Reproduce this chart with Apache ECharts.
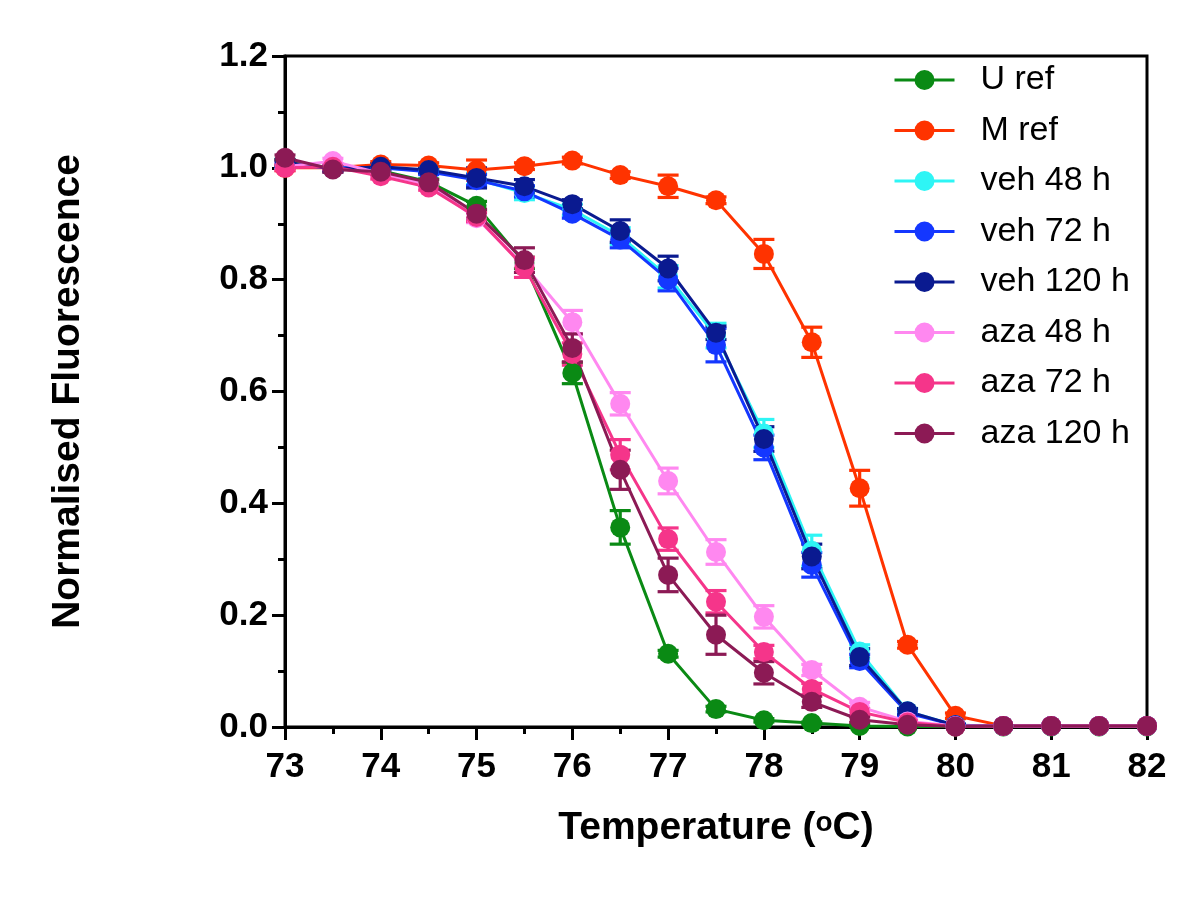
<!DOCTYPE html>
<html><head><meta charset="utf-8">
<script src="https://cdn.jsdelivr.net/npm/echarts@6/dist/echarts.min.js"></script>
<style>html,body{margin:0;padding:0;background:#fff}#c{width:1200px;height:897px}</style>
</head><body><div id="c"></div>
<script>
const temps = [73,73.5,74,74.5,75,75.5,76,76.5,77,77.5,78,78.5,79,79.5,80,80.5,81,81.5,82];
const names = ['U ref','M ref','veh 48 h','veh 72 h','veh 120 h','aza 48 h','aza 72 h','aza 120 h'];
const colors = ['#0a8a14','#ff3300','#2ef5f5','#1437ff','#0a1a90','#ff88f0','#f5358a','#8c1a55'];

const uRef     = [1.010,1.000,0.995,0.975,0.932,0.830,0.633,0.357,0.131,0.032,0.012,0.007,0.002,0.001,0.001,0.001,0.001,0.001,0.001];
const uRefErr  = [0.005,0.005,0.005,0.005,0.008,0.010,0.019,0.030,0.006,0.005,0.003,0.002,0.001,0,0,0,0,0,0];
const mRef     = [1.000,1.000,1.006,1.004,0.996,1.003,1.013,0.987,0.967,0.942,0.846,0.688,0.427,0.147,0.020,0.002,0.002,0.002,0.002];
const mRefErr  = [0.005,0.005,0.005,0.005,0.018,0.006,0.006,0.006,0.020,0.006,0.026,0.027,0.032,0.006,0.005,0,0,0,0];
const veh48    = [1.005,1.000,1.000,0.995,0.980,0.955,0.925,0.878,0.805,0.700,0.525,0.315,0.135,0.028,0.003,0.002,0.002,0.002,0.002];
const veh48Err = [0.005,0.005,0.005,0.005,0.010,0.012,0.010,0.015,0.020,0.022,0.025,0.028,0.012,0.005,0.002,0,0,0,0];
const veh72    = [1.005,1.000,1.000,0.993,0.978,0.958,0.918,0.872,0.800,0.683,0.500,0.290,0.118,0.025,0.003,0.002,0.002,0.002,0.002];
const veh72Err = [0.005,0.005,0.005,0.005,0.010,0.010,0.008,0.015,0.020,0.030,0.022,0.022,0.012,0.005,0.002,0,0,0,0];
const veh120   = [1.010,0.998,1.002,0.996,0.982,0.967,0.935,0.887,0.820,0.705,0.515,0.305,0.125,0.028,0.003,0.002,0.002,0.002,0.002];
const veh120Err= [0.005,0.005,0.005,0.005,0.018,0.012,0.008,0.020,0.022,0.012,0.022,0.022,0.015,0.005,0.002,0,0,0,0];
const aza48    = [1.002,1.012,0.990,0.970,0.910,0.825,0.724,0.578,0.440,0.313,0.197,0.102,0.036,0.010,0.002,0.002,0.002,0.002,0.002];
const aza48Err = [0.005,0.005,0.005,0.005,0.008,0.012,0.021,0.020,0.023,0.022,0.020,0.010,0.008,0.004,0,0,0,0,0];
const aza72    = [1.000,1.002,0.985,0.965,0.912,0.822,0.667,0.487,0.336,0.224,0.134,0.068,0.027,0.008,0.001,0.002,0.002,0.002,0.002];
const aza72Err = [0.005,0.005,0.005,0.005,0.008,0.018,0.020,0.027,0.020,0.020,0.012,0.010,0.006,0.003,0,0,0,0,0];
const aza120   = [1.018,0.997,0.993,0.974,0.918,0.835,0.678,0.460,0.272,0.165,0.097,0.045,0.013,0.004,0.001,0.002,0.002,0.002,0.002];
const aza120Err= [0.005,0.005,0.005,0.005,0.008,0.022,0.025,0.035,0.030,0.035,0.020,0.010,0.005,0.003,0,0,0,0,0];

const yTicks = [0,0.2,0.4,0.6,0.8,1.0,1.2];

const values = [uRef,mRef,veh48,veh72,veh120,aza48,aza72,aza120];
const errors = [uRefErr,mRefErr,veh48Err,veh72Err,veh120Err,aza48Err,aza72Err,aza120Err];

const FONT = '"Liberation Sans", Arial, sans-serif';

function makeErr(color){
  return function(params, api){
    const x = api.value(0), y = api.value(1), e = api.value(2);
    if (!e) return null;
    const t = api.coord([x, y + e]), b = api.coord([x, y - e]);
    const hw = 10.5;
    const st = {stroke: color, lineWidth: 3.2, fill: null};
    return {type:'group', children:[
      {type:'line', shape:{x1:t[0],y1:t[1],x2:b[0],y2:b[1]}, style:st},
      {type:'line', shape:{x1:t[0]-hw,y1:t[1],x2:t[0]+hw,y2:t[1]}, style:st},
      {type:'line', shape:{x1:b[0]-hw,y1:b[1],x2:b[0]+hw,y2:b[1]}, style:st}
    ]};
  };
}

const series = [];
names.forEach((n,i)=>{
  series.push({
    type:'custom', name: n + ' err', renderItem: makeErr(colors[i]),
    data: temps.map((t,k)=>[t, values[i][k], errors[i][k]]),
    clip:false, silent:true, z:2
  });
  series.push({
    type:'line', name:n, data: temps.map((t,k)=>[t, values[i][k]]),
    symbol:'circle', symbolSize:20, showSymbol:true, clip:false,
    itemStyle:{color:colors[i]}, lineStyle:{color:colors[i], width:3},
    emphasis:{disabled:true}, animation:false, z:2
  });
});

const chart = echarts.init(document.getElementById('c'), null, {renderer:'canvas'});
chart.setOption({
  animation:false,
  backgroundColor:'#fff',
  grid:{left:285, right:53, top:56, bottom:170, show:true, borderColor:'#000', borderWidth:3, containLabel:false},
  legend:{
    orient:'vertical', left:893, top:63, padding:0, itemWidth:60, itemHeight:25, itemGap:16.5,
    data:names,
    lineStyle:{width:3},
    textStyle:{fontFamily:FONT, fontSize:34, color:'#000', padding:[0,0,0,21], lineHeight:33},
    selectedMode:false
  },
  xAxis:{
    type:'value', min:73, max:82, interval:1,
    axisLine:{show:true, lineStyle:{color:'#000', width:3}},
    axisTick:{show:true, inside:false, length:13, lineStyle:{color:'#000', width:3}},
    minorTick:{show:true, splitNumber:2, length:7, lineStyle:{color:'#000', width:3}},
    splitLine:{show:false},
    axisLabel:{fontFamily:FONT, fontSize:35, fontWeight:'bold', color:'#000', margin:23},
    name:'{t|Temperature (}{sup|o}{t|C)}', nameLocation:'middle', nameGap:82,
    nameTextStyle:{fontFamily:FONT, fontSize:39, fontWeight:'bold', color:'#000',
      rich:{
        t:{fontFamily:FONT, fontSize:39, fontWeight:'bold', color:'#000', lineHeight:39},
        sup:{fontFamily:FONT, fontSize:28, fontWeight:'bold', color:'#000', lineHeight:8, verticalAlign:'top'}
      }}
  },
  yAxis:{
    type:'value', min:0, max:1.2, interval:0.2,
    axisLine:{show:true, lineStyle:{color:'#000', width:3}},
    axisTick:{show:true, inside:false, length:13, lineStyle:{color:'#000', width:3}},
    minorTick:{show:true, splitNumber:2, length:7, lineStyle:{color:'#000', width:3}},
    splitLine:{show:false},
    axisLabel:{fontFamily:FONT, fontSize:35, fontWeight:'bold', color:'#000', margin:17,
      formatter:v=>{const m = yTicks.find(t=>Math.abs(t-v)<1e-9); return (m!==undefined? m : v).toFixed(1);}},
    name:'Normalised Fluorescence', nameLocation:'middle', nameGap:197, nameRotate:90,
    nameTextStyle:{fontFamily:FONT, fontSize:39, fontWeight:'bold', color:'#000'}
  },
  series:series
});
</script>
</body></html>
